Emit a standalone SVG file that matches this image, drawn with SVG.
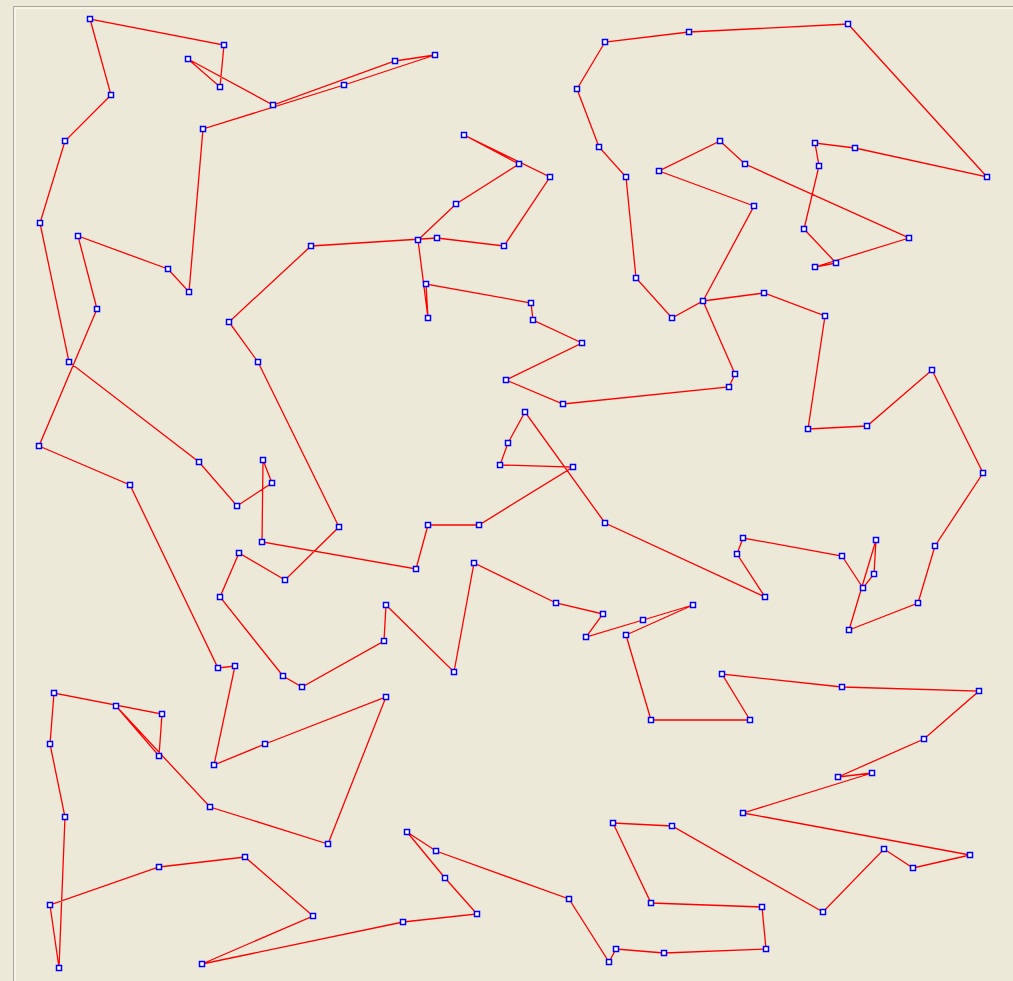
<svg xmlns="http://www.w3.org/2000/svg" width="1013" height="981" viewBox="0 0 1013 981">
<style>
.bg{fill:#ece9d8}
.tour{fill:none;stroke:#ff0000;stroke-width:1.3;stroke-linejoin:miter}
.node rect{fill:#ffffff;stroke:#0000ff;stroke-width:1.5}
</style>
<rect class="bg" x="0" y="0" width="1013" height="981"/>
<path d="M13.5 981 V6.5 H1013" fill="none" stroke="#aca899" stroke-width="1"/>
<path d="M15 981 V8 H1013" fill="none" stroke="#ffffff" stroke-width="1"/>
<g id="connectors">
<polygon class="tour" points="90,19 111,95 65,141 40,223 69,362 199,462 237,506 272,483 263,460 262,542 416,569 428,525 479,525 573,467 500,465 508,443 525,412 605,523 765,597 737,554 743,538 842,556 863,588 874,574 876,540 849,630 918,603 935,546 983,473 932,370 867,426 808,429 825,316 764,293 703,301 672,318 636,278 626,177 599,147 577,89 605,42 689,32 848,24 987,177 855,148 815,143 819,166 804,229 836,263 815,267 909,238 745,164 720,141 659,171 754,206 703,301 735,374 729,387 563,404 506,380 582,343 533,320 531,303 426,284 428,318 418,240 456,204 519,164 464,135 550,177 504,246 437,238 311,246 229,322 258,362 339,527 285,580 239,553 220,597 283,676 302,687 384,641 386,605 454,672 474,563 556,603 603,614 586,637 643,620 693,605 626,635 651,720 750,720 722,674 842,687 979,691 924,739 838,777 872,773 743,813 970,855 913,868 884,849 823,912 672,826 613,823 651,903 762,907 766,949 664,953 616,949 609,962 569,899 436,851 407,832 445,878 477,914 403,922 202,964 313,916 245,857 159,867 50,905 59,968 65,817 50,744 54,693 162,714 159,756 116,706 210,807 328,844 386,697 265,744 214,765 235,666 218,668 130,485 39,446 97,309 78,236 168,269 189,292 203,129 344,85 435,55 395,61 273,105 188,59 220,87 224,45"/>
</g>
<g id="nodes">
<g id="n1" class="node"><rect x="87.5" y="16.5" width="5" height="5"/></g>
<g id="n2" class="node"><rect x="108.5" y="92.5" width="5" height="5"/></g>
<g id="n3" class="node"><rect x="62.5" y="138.5" width="5" height="5"/></g>
<g id="n4" class="node"><rect x="37.5" y="220.5" width="5" height="5"/></g>
<g id="n5" class="node"><rect x="66.5" y="359.5" width="5" height="5"/></g>
<g id="n6" class="node"><rect x="196.5" y="459.5" width="5" height="5"/></g>
<g id="n7" class="node"><rect x="234.5" y="503.5" width="5" height="5"/></g>
<g id="n8" class="node"><rect x="269.5" y="480.5" width="5" height="5"/></g>
<g id="n9" class="node"><rect x="260.5" y="457.5" width="5" height="5"/></g>
<g id="n10" class="node"><rect x="259.5" y="539.5" width="5" height="5"/></g>
<g id="n11" class="node"><rect x="413.5" y="566.5" width="5" height="5"/></g>
<g id="n12" class="node"><rect x="425.5" y="522.5" width="5" height="5"/></g>
<g id="n13" class="node"><rect x="476.5" y="522.5" width="5" height="5"/></g>
<g id="n14" class="node"><rect x="570.5" y="464.5" width="5" height="5"/></g>
<g id="n15" class="node"><rect x="497.5" y="462.5" width="5" height="5"/></g>
<g id="n16" class="node"><rect x="505.5" y="440.5" width="5" height="5"/></g>
<g id="n17" class="node"><rect x="522.5" y="409.5" width="5" height="5"/></g>
<g id="n18" class="node"><rect x="602.5" y="520.5" width="5" height="5"/></g>
<g id="n19" class="node"><rect x="762.5" y="594.5" width="5" height="5"/></g>
<g id="n20" class="node"><rect x="734.5" y="551.5" width="5" height="5"/></g>
<g id="n21" class="node"><rect x="740.5" y="535.5" width="5" height="5"/></g>
<g id="n22" class="node"><rect x="839.5" y="553.5" width="5" height="5"/></g>
<g id="n23" class="node"><rect x="860.5" y="585.5" width="5" height="5"/></g>
<g id="n24" class="node"><rect x="871.5" y="571.5" width="5" height="5"/></g>
<g id="n25" class="node"><rect x="873.5" y="537.5" width="5" height="5"/></g>
<g id="n26" class="node"><rect x="846.5" y="627.5" width="5" height="5"/></g>
<g id="n27" class="node"><rect x="915.5" y="600.5" width="5" height="5"/></g>
<g id="n28" class="node"><rect x="932.5" y="543.5" width="5" height="5"/></g>
<g id="n29" class="node"><rect x="980.5" y="470.5" width="5" height="5"/></g>
<g id="n30" class="node"><rect x="929.5" y="367.5" width="5" height="5"/></g>
<g id="n31" class="node"><rect x="864.5" y="423.5" width="5" height="5"/></g>
<g id="n32" class="node"><rect x="805.5" y="426.5" width="5" height="5"/></g>
<g id="n33" class="node"><rect x="822.5" y="313.5" width="5" height="5"/></g>
<g id="n34" class="node"><rect x="761.5" y="290.5" width="5" height="5"/></g>
<g id="n35" class="node"><rect x="700.5" y="298.5" width="5" height="5"/></g>
<g id="n36" class="node"><rect x="669.5" y="315.5" width="5" height="5"/></g>
<g id="n37" class="node"><rect x="633.5" y="275.5" width="5" height="5"/></g>
<g id="n38" class="node"><rect x="623.5" y="174.5" width="5" height="5"/></g>
<g id="n39" class="node"><rect x="596.5" y="144.5" width="5" height="5"/></g>
<g id="n40" class="node"><rect x="574.5" y="86.5" width="5" height="5"/></g>
<g id="n41" class="node"><rect x="602.5" y="39.5" width="5" height="5"/></g>
<g id="n42" class="node"><rect x="686.5" y="29.5" width="5" height="5"/></g>
<g id="n43" class="node"><rect x="845.5" y="21.5" width="5" height="5"/></g>
<g id="n44" class="node"><rect x="984.5" y="174.5" width="5" height="5"/></g>
<g id="n45" class="node"><rect x="852.5" y="145.5" width="5" height="5"/></g>
<g id="n46" class="node"><rect x="812.5" y="140.5" width="5" height="5"/></g>
<g id="n47" class="node"><rect x="816.5" y="163.5" width="5" height="5"/></g>
<g id="n48" class="node"><rect x="801.5" y="226.5" width="5" height="5"/></g>
<g id="n49" class="node"><rect x="833.5" y="260.5" width="5" height="5"/></g>
<g id="n50" class="node"><rect x="812.5" y="264.5" width="5" height="5"/></g>
<g id="n51" class="node"><rect x="906.5" y="235.5" width="5" height="5"/></g>
<g id="n52" class="node"><rect x="742.5" y="161.5" width="5" height="5"/></g>
<g id="n53" class="node"><rect x="717.5" y="138.5" width="5" height="5"/></g>
<g id="n54" class="node"><rect x="656.5" y="168.5" width="5" height="5"/></g>
<g id="n55" class="node"><rect x="751.5" y="203.5" width="5" height="5"/></g>
<g id="n57" class="node"><rect x="732.5" y="371.5" width="5" height="5"/></g>
<g id="n58" class="node"><rect x="726.5" y="384.5" width="5" height="5"/></g>
<g id="n59" class="node"><rect x="560.5" y="401.5" width="5" height="5"/></g>
<g id="n60" class="node"><rect x="503.5" y="377.5" width="5" height="5"/></g>
<g id="n61" class="node"><rect x="579.5" y="340.5" width="5" height="5"/></g>
<g id="n62" class="node"><rect x="530.5" y="317.5" width="5" height="5"/></g>
<g id="n63" class="node"><rect x="528.5" y="300.5" width="5" height="5"/></g>
<g id="n64" class="node"><rect x="423.5" y="281.5" width="5" height="5"/></g>
<g id="n65" class="node"><rect x="425.5" y="315.5" width="5" height="5"/></g>
<g id="n66" class="node"><rect x="415.5" y="237.5" width="5" height="5"/></g>
<g id="n67" class="node"><rect x="453.5" y="201.5" width="5" height="5"/></g>
<g id="n68" class="node"><rect x="516.5" y="161.5" width="5" height="5"/></g>
<g id="n69" class="node"><rect x="461.5" y="132.5" width="5" height="5"/></g>
<g id="n70" class="node"><rect x="547.5" y="174.5" width="5" height="5"/></g>
<g id="n71" class="node"><rect x="501.5" y="243.5" width="5" height="5"/></g>
<g id="n72" class="node"><rect x="434.5" y="235.5" width="5" height="5"/></g>
<g id="n73" class="node"><rect x="308.5" y="243.5" width="5" height="5"/></g>
<g id="n74" class="node"><rect x="226.5" y="319.5" width="5" height="5"/></g>
<g id="n75" class="node"><rect x="255.5" y="359.5" width="5" height="5"/></g>
<g id="n76" class="node"><rect x="336.5" y="524.5" width="5" height="5"/></g>
<g id="n77" class="node"><rect x="282.5" y="577.5" width="5" height="5"/></g>
<g id="n78" class="node"><rect x="236.5" y="550.5" width="5" height="5"/></g>
<g id="n79" class="node"><rect x="217.5" y="594.5" width="5" height="5"/></g>
<g id="n80" class="node"><rect x="280.5" y="673.5" width="5" height="5"/></g>
<g id="n81" class="node"><rect x="299.5" y="684.5" width="5" height="5"/></g>
<g id="n82" class="node"><rect x="381.5" y="638.5" width="5" height="5"/></g>
<g id="n83" class="node"><rect x="383.5" y="602.5" width="5" height="5"/></g>
<g id="n84" class="node"><rect x="451.5" y="669.5" width="5" height="5"/></g>
<g id="n85" class="node"><rect x="471.5" y="560.5" width="5" height="5"/></g>
<g id="n86" class="node"><rect x="553.5" y="600.5" width="5" height="5"/></g>
<g id="n87" class="node"><rect x="600.5" y="611.5" width="5" height="5"/></g>
<g id="n88" class="node"><rect x="583.5" y="634.5" width="5" height="5"/></g>
<g id="n89" class="node"><rect x="640.5" y="617.5" width="5" height="5"/></g>
<g id="n90" class="node"><rect x="690.5" y="602.5" width="5" height="5"/></g>
<g id="n91" class="node"><rect x="623.5" y="632.5" width="5" height="5"/></g>
<g id="n92" class="node"><rect x="648.5" y="717.5" width="5" height="5"/></g>
<g id="n93" class="node"><rect x="747.5" y="717.5" width="5" height="5"/></g>
<g id="n94" class="node"><rect x="719.5" y="671.5" width="5" height="5"/></g>
<g id="n95" class="node"><rect x="839.5" y="684.5" width="5" height="5"/></g>
<g id="n96" class="node"><rect x="976.5" y="688.5" width="5" height="5"/></g>
<g id="n97" class="node"><rect x="921.5" y="736.5" width="5" height="5"/></g>
<g id="n98" class="node"><rect x="835.5" y="774.5" width="5" height="5"/></g>
<g id="n99" class="node"><rect x="869.5" y="770.5" width="5" height="5"/></g>
<g id="n100" class="node"><rect x="740.5" y="810.5" width="5" height="5"/></g>
<g id="n101" class="node"><rect x="967.5" y="852.5" width="5" height="5"/></g>
<g id="n102" class="node"><rect x="910.5" y="865.5" width="5" height="5"/></g>
<g id="n103" class="node"><rect x="881.5" y="846.5" width="5" height="5"/></g>
<g id="n104" class="node"><rect x="820.5" y="909.5" width="5" height="5"/></g>
<g id="n105" class="node"><rect x="669.5" y="823.5" width="5" height="5"/></g>
<g id="n106" class="node"><rect x="610.5" y="820.5" width="5" height="5"/></g>
<g id="n107" class="node"><rect x="648.5" y="900.5" width="5" height="5"/></g>
<g id="n108" class="node"><rect x="759.5" y="904.5" width="5" height="5"/></g>
<g id="n109" class="node"><rect x="763.5" y="946.5" width="5" height="5"/></g>
<g id="n110" class="node"><rect x="661.5" y="950.5" width="5" height="5"/></g>
<g id="n111" class="node"><rect x="613.5" y="946.5" width="5" height="5"/></g>
<g id="n112" class="node"><rect x="606.5" y="959.5" width="5" height="5"/></g>
<g id="n113" class="node"><rect x="566.5" y="896.5" width="5" height="5"/></g>
<g id="n114" class="node"><rect x="433.5" y="848.5" width="5" height="5"/></g>
<g id="n115" class="node"><rect x="404.5" y="829.5" width="5" height="5"/></g>
<g id="n116" class="node"><rect x="442.5" y="875.5" width="5" height="5"/></g>
<g id="n117" class="node"><rect x="474.5" y="911.5" width="5" height="5"/></g>
<g id="n118" class="node"><rect x="400.5" y="919.5" width="5" height="5"/></g>
<g id="n119" class="node"><rect x="199.5" y="961.5" width="5" height="5"/></g>
<g id="n120" class="node"><rect x="310.5" y="913.5" width="5" height="5"/></g>
<g id="n121" class="node"><rect x="242.5" y="854.5" width="5" height="5"/></g>
<g id="n122" class="node"><rect x="156.5" y="864.5" width="5" height="5"/></g>
<g id="n123" class="node"><rect x="47.5" y="902.5" width="5" height="5"/></g>
<g id="n124" class="node"><rect x="56.5" y="965.5" width="5" height="5"/></g>
<g id="n125" class="node"><rect x="62.5" y="814.5" width="5" height="5"/></g>
<g id="n126" class="node"><rect x="47.5" y="741.5" width="5" height="5"/></g>
<g id="n127" class="node"><rect x="51.5" y="690.5" width="5" height="5"/></g>
<g id="n128" class="node"><rect x="159.5" y="711.5" width="5" height="5"/></g>
<g id="n129" class="node"><rect x="156.5" y="753.5" width="5" height="5"/></g>
<g id="n130" class="node"><rect x="113.5" y="703.5" width="5" height="5"/></g>
<g id="n131" class="node"><rect x="207.5" y="804.5" width="5" height="5"/></g>
<g id="n132" class="node"><rect x="325.5" y="841.5" width="5" height="5"/></g>
<g id="n133" class="node"><rect x="383.5" y="694.5" width="5" height="5"/></g>
<g id="n134" class="node"><rect x="262.5" y="741.5" width="5" height="5"/></g>
<g id="n135" class="node"><rect x="211.5" y="762.5" width="5" height="5"/></g>
<g id="n136" class="node"><rect x="232.5" y="663.5" width="5" height="5"/></g>
<g id="n137" class="node"><rect x="215.5" y="665.5" width="5" height="5"/></g>
<g id="n138" class="node"><rect x="127.5" y="482.5" width="5" height="5"/></g>
<g id="n139" class="node"><rect x="36.5" y="443.5" width="5" height="5"/></g>
<g id="n140" class="node"><rect x="94.5" y="306.5" width="5" height="5"/></g>
<g id="n141" class="node"><rect x="75.5" y="233.5" width="5" height="5"/></g>
<g id="n142" class="node"><rect x="165.5" y="266.5" width="5" height="5"/></g>
<g id="n143" class="node"><rect x="186.5" y="289.5" width="5" height="5"/></g>
<g id="n144" class="node"><rect x="200.5" y="126.5" width="5" height="5"/></g>
<g id="n145" class="node"><rect x="341.5" y="82.5" width="5" height="5"/></g>
<g id="n146" class="node"><rect x="432.5" y="52.5" width="5" height="5"/></g>
<g id="n147" class="node"><rect x="392.5" y="58.5" width="5" height="5"/></g>
<g id="n148" class="node"><rect x="270.5" y="102.5" width="5" height="5"/></g>
<g id="n149" class="node"><rect x="185.5" y="56.5" width="5" height="5"/></g>
<g id="n150" class="node"><rect x="217.5" y="84.5" width="5" height="5"/></g>
<g id="n151" class="node"><rect x="221.5" y="42.5" width="5" height="5"/></g>
</g>
</svg>
